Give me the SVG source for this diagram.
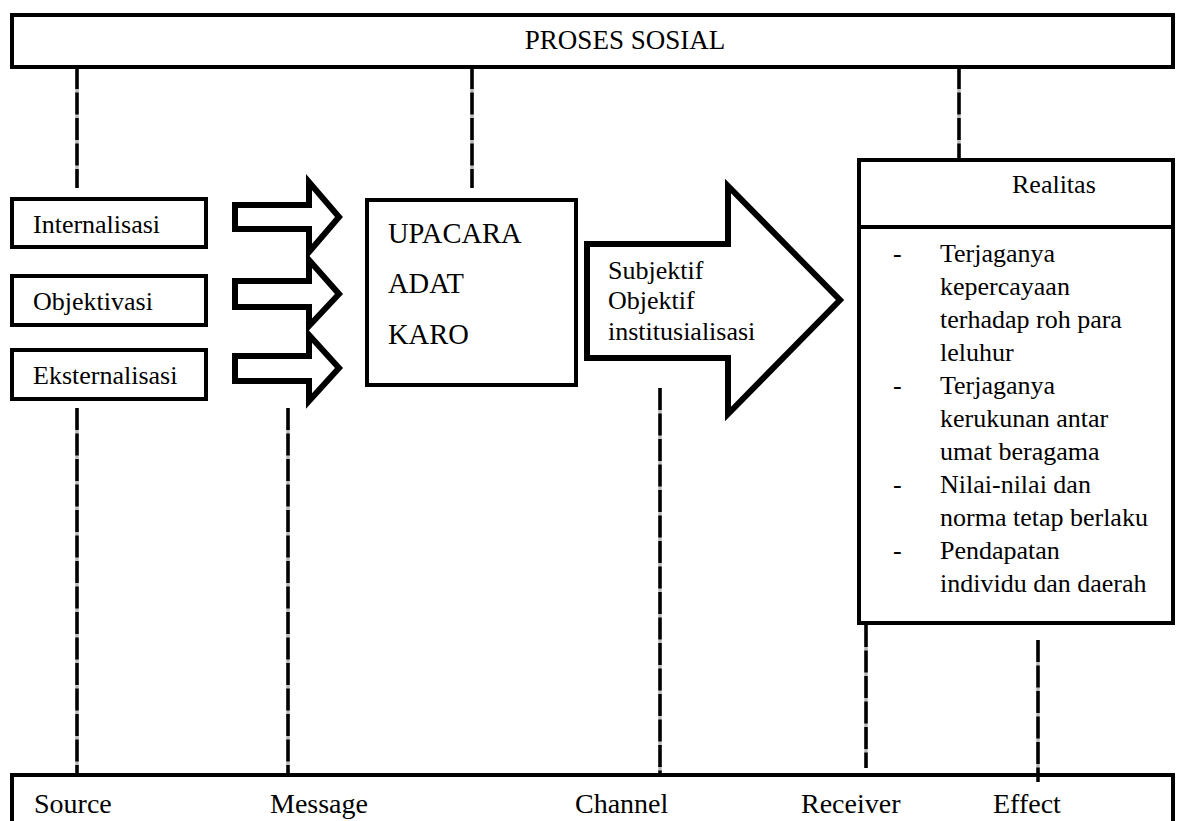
<svg xmlns="http://www.w3.org/2000/svg" width="1181" height="821" viewBox="0 0 1181 821" font-family="'Liberation Serif', 'Times New Roman', Times, serif">
<defs>
<style>
  .box { fill: #fff; stroke: #000; stroke-width: 4; }
  .arr { fill: #fff; stroke: #000; stroke-width: 6; stroke-linejoin: miter; }
  .dashbg { stroke: #b8b8b8; stroke-width: 3.5; fill: none; }
  .dash { stroke: #000; stroke-width: 3.5; fill: none; stroke-dasharray: 22 3.5; }
  .lbl { font-size: 26px; }
  .big { font-size: 28.5px; }
  .foot { font-size: 28px; }
</style>
</defs>
<rect x="0" y="0" width="1181" height="821" fill="#fff"/>
<g id="connectors">
  <line class="dashbg" x1="77" y1="67" x2="77" y2="188"/><line class="dash" x1="77" y1="67" x2="77" y2="188"/>
  <line class="dashbg" x1="472" y1="67" x2="472" y2="188"/><line class="dash" x1="472" y1="67" x2="472" y2="188"/>
  <line class="dashbg" x1="959" y1="67" x2="959" y2="162"/><line class="dash" x1="959" y1="67" x2="959" y2="162"/>
  <line class="dashbg" x1="77" y1="408" x2="77" y2="773"/><line class="dash" x1="77" y1="408" x2="77" y2="773"/>
  <line class="dashbg" x1="288" y1="408" x2="288" y2="773"/><line class="dash" x1="288" y1="408" x2="288" y2="773"/>
  <line class="dashbg" x1="660" y1="388" x2="660" y2="773"/><line class="dash" x1="660" y1="388" x2="660" y2="773"/>
  <line class="dashbg" x1="866" y1="625" x2="866" y2="768"/><line class="dash" x1="866" y1="625" x2="866" y2="768"/>
  <line class="dashbg" x1="1038" y1="640" x2="1038" y2="782"/><line class="dash" x1="1038" y1="640" x2="1038" y2="782"/>
</g>
<g id="proses-sosial">
  <rect class="box" x="12" y="15" width="1161" height="52"/>
  <text x="625" y="49" font-size="27" text-anchor="middle" font-family="'Liberation Serif', serif">PROSES SOSIAL</text>
</g>
<g id="internalisasi">
  <rect class="box" x="12" y="199" width="194" height="48"/>
  <text class="lbl" x="33" y="233" font-family="'Liberation Serif', serif">Internalisasi</text>
</g>
<g id="objektivasi">
  <rect class="box" x="12" y="276" width="194" height="49"/>
  <text class="lbl" x="33" y="310" font-family="'Liberation Serif', serif">Objektivasi</text>
</g>
<g id="eksternalisasi">
  <rect class="box" x="12" y="350" width="194" height="49"/>
  <text class="lbl" x="33" y="384" font-family="'Liberation Serif', serif">Eksternalisasi</text>
</g>
<g id="arrow-1">
  <path class="arr" d="M235,205 H309 V182 L339,217 L309,252 V229 H235 Z"/>
</g>
<g id="arrow-2">
  <path class="arr" d="M235,281 H309 V260 L339,294 L309,326 V307 H235 Z"/>
</g>
<g id="arrow-3">
  <path class="arr" d="M235,356 H309 V335 L339,368 L309,401 V381 H235 Z"/>
</g>
<g id="upacara-adat-karo" font-family="'Liberation Serif', serif">
  <rect class="box" x="367" y="200" width="209" height="185"/>
  <text class="big" x="388" y="243">UPACARA</text>
  <text class="big" x="388" y="293">ADAT</text>
  <text class="big" x="388" y="344">KARO</text>
</g>
<g id="big-arrow" font-family="'Liberation Serif', serif">
  <path class="arr" d="M587,244 H728 V186 L840,300 L728,414 V358 H587 Z"/>
  <text class="lbl" x="608" y="279">Subjektif</text>
  <text class="lbl" x="608" y="309">Objektif</text>
  <text class="lbl" x="608" y="340">institusialisasi</text>
</g>
<g id="realitas" font-family="'Liberation Serif', serif">
  <rect class="box" x="859" y="160" width="314" height="463"/>
  <line x1="859" y1="227" x2="1173" y2="227" stroke="#000" stroke-width="4"/>
  <text class="lbl" x="1012" y="193">Realitas</text>
  <text class="lbl" x="893" y="262">-</text>
  <text class="lbl" x="940" y="262">Terjaganya</text>
  <text class="lbl" x="940" y="295">kepercayaan</text>
  <text class="lbl" x="940" y="328">terhadap roh para</text>
  <text class="lbl" x="940" y="361">leluhur</text>
  <text class="lbl" x="893" y="394">-</text>
  <text class="lbl" x="940" y="394">Terjaganya</text>
  <text class="lbl" x="940" y="427">kerukunan antar</text>
  <text class="lbl" x="940" y="460">umat beragama</text>
  <text class="lbl" x="893" y="493">-</text>
  <text class="lbl" x="940" y="493">Nilai-nilai dan</text>
  <text class="lbl" x="940" y="526">norma tetap berlaku</text>
  <text class="lbl" x="893" y="559">-</text>
  <text class="lbl" x="940" y="559">Pendapatan</text>
  <text class="lbl" x="940" y="592">individu dan daerah</text>
</g>
<g id="smcre" font-family="'Liberation Serif', serif">
  <rect class="box" x="12" y="775" width="1161" height="60"/>
  <text class="foot" x="34" y="813">Source</text>
  <text class="foot" x="270" y="813">Message</text>
  <text class="foot" x="575" y="813">Channel</text>
  <text class="foot" x="801" y="813">Receiver</text>
  <text class="foot" x="993" y="813">Effect</text>
</g>
<g id="connectors-over">
  <line class="dash" x1="1038" y1="775" x2="1038" y2="782"/>
</g>
</svg>
